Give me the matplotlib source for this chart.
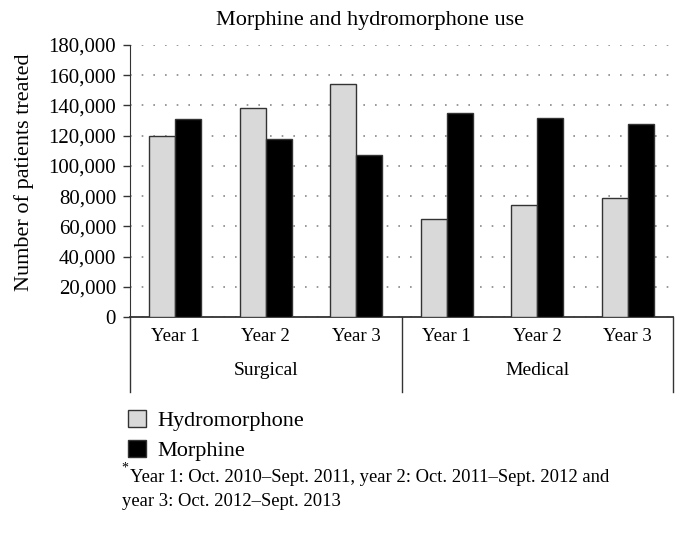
import numpy as np
import matplotlib
matplotlib.use("Agg")
from matplotlib import pyplot as plt
from matplotlib.patches import Patch
from matplotlib.transforms import blended_transform_factory

# 数据
groups = ["Surgical", "Medical"]
years = ["Year 1", "Year 2", "Year 3"]
hydromorphone = [120000, 138000, 154000, 65000, 74000, 78500]
morphine = [131000, 117500, 107500, 135000, 131500, 128000]
yticks = [0, 20000, 40000, 60000, 80000, 100000, 120000, 140000, 160000, 180000]

plt.rcParams['font.family'] = ['Liberation Serif', 'DejaVu Serif']
plt.rcParams['font.size'] = 14

fig = plt.figure(figsize=(6.89, 5.36), dpi=100)
ax = fig.add_axes([130 / 689, 1 - 317 / 536, 543 / 689, 272 / 536])

x = np.arange(len(hydromorphone))
w = 0.29
ax.bar(x - w / 2, hydromorphone, w, color='#d9d9d9', edgecolor='#333333', linewidth=1, zorder=3)
ax.bar(x + w / 2, morphine, w, color='black', edgecolor='#333333', linewidth=1, zorder=3)

ax.set_xlim(-0.5, len(x) - 0.5)
ax.set_ylim(0, 180000)
ax.set_yticks(yticks)
ax.set_yticklabels([f"{v:,}" for v in yticks], fontsize=15)
ax.set_xticks([])
ax.tick_params(axis='y', length=5, width=1, color='#333333', pad=5)
ax.yaxis.grid(True, linestyle=(0, (1, 6)), linewidth=1.2, color='#888888', zorder=0)
for s in ['top', 'right']:
    ax.spines[s].set_visible(False)
ax.spines['left'].set_color('#333333')
ax.spines['bottom'].set_color('#333333')
ax.spines['bottom'].set_linewidth(1.3)

# y 轴标题
fig.text(24 / 689, 1 - 172 / 536, "Number of patients treated", fontsize=16,
         rotation=90, ha='center', va='center')
# 标题
fig.text(370 / 689, 1 - 21 / 536, "Morphine and hydromorphone use", fontsize=16,
         ha='center', va='center')

# 分组标签
trans = blended_transform_factory(ax.transData, ax.transAxes)
for i in x:
    ax.text(i, -0.073, years[i % 3], transform=trans, ha='center', va='center', fontsize=13.5)
for g, name in enumerate(groups):
    ax.text(g * 3 + 1, -0.195, name, transform=trans, ha='center', va='center', fontsize=14)
for xs in [-0.5, 2.5, 5.5]:
    ax.plot([xs, xs], [0, -0.276], transform=trans, color='#333333', lw=1, clip_on=False)

# 图例
handles = [Patch(facecolor='#d9d9d9', edgecolor='#333333', label='Hydromorphone'),
           Patch(facecolor='black', edgecolor='#333333', label='Morphine')]
fig.legend(handles=handles, loc='upper left', bbox_to_anchor=(108 / 689, 1 - 390 / 536),
           frameon=False, handlelength=0.8, handleheight=0.8, handletextpad=0.5,
           labelspacing=0.4, fontsize=16)

# 脚注
fig.text(128 / 689, 1 - 468 / 536, "*", fontsize=10, ha='right', va='center')
fig.text(130 / 689, 1 - 477 / 536, "Year 1: Oct. 2010\u2013Sept. 2011, year 2: Oct. 2011\u2013Sept. 2012 and",
         fontsize=13.4, ha='left', va='center')
fig.text(122 / 689, 1 - 502 / 536, "year 3: Oct. 2012\u2013Sept. 2013", fontsize=13.4, ha='left', va='center')

plt.savefig("out.png", dpi=100)
